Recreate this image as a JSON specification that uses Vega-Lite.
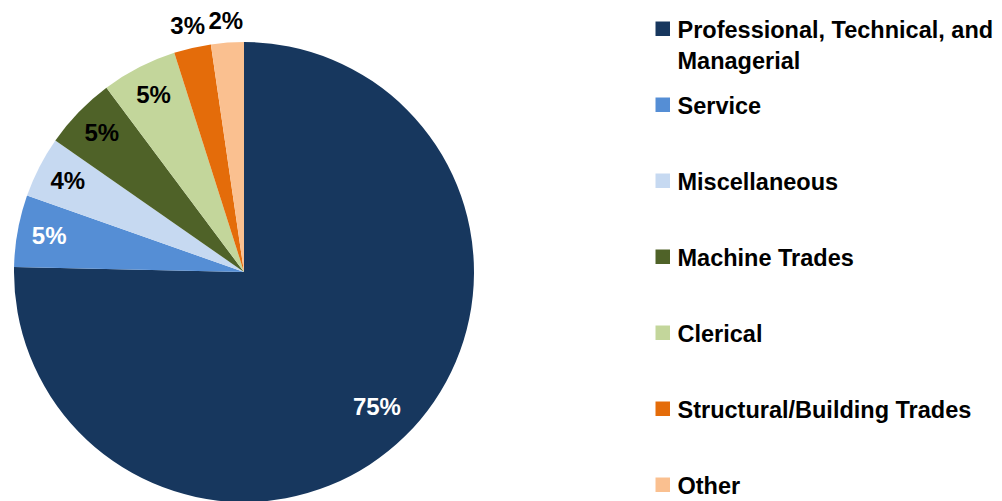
{
  "$schema": "https://vega.github.io/schema/vega-lite/v6.json",
  "width": 488,
  "height": 544,
  "padding": 0,
  "background": "white",
  "config": {"view": {"stroke": null}},
  "data": {
    "values": [
      {"category": "Professional, Technical, and Managerial", "share": 75.3, "label": "75%", "order": 1},
      {"category": "Service", "share": 5.05, "label": "5%", "order": 2},
      {"category": "Miscellaneous", "share": 4.3, "label": "4%", "order": 3},
      {"category": "Machine Trades", "share": 5.1, "label": "5%", "order": 4},
      {"category": "Clerical", "share": 5.3, "label": "5%", "order": 5},
      {"category": "Structural/Building Trades", "share": 2.6, "label": "3%", "order": 6},
      {"category": "Other", "share": 2.3, "label": "2%", "order": 7}
    ]
  },
  "encoding": {
    "theta": {"field": "share", "type": "quantitative", "stack": true},
    "order": {"field": "order", "type": "quantitative"}
  },
  "layer": [
    {
      "mark": {"type": "arc", "outerRadius": 230, "strokeWidth": 0},
      "encoding": {
        "color": {
          "field": "category",
          "type": "nominal",
          "scale": {
            "domain": ["Professional, Technical, and Managerial", "Service", "Miscellaneous", "Machine Trades", "Clerical", "Structural/Building Trades", "Other"],
            "range": ["#17375E", "#558ED5", "#C6D9F1", "#4F6228", "#C3D69B", "#E46C0A", "#FAC090"]
          },
          "legend": {
            "title": null,
            "orient": "none",
            "legendX": 651,
            "legendY": 17,
            "symbolType": "square",
            "symbolSize": 210,
            "symbolStrokeWidth": 0,
            "labelFont": "Liberation Sans",
            "labelFontWeight": "bold",
            "labelFontSize": 23.5,
            "labelColor": "#000000",
            "labelLimit": 500,
            "labelOffset": 3,
            "labelBaseline": "alphabetic",
            "gridAlign": "all",
            "rowPadding": 19,
            "labelExpr": "datum.label == 'Professional, Technical, and Managerial' ? ['Professional, Technical, and', 'Managerial'] : datum.label",
            "encode": {
              "labels": {"update": {"dy": {"value": 9}, "lineHeight": {"value": 31}}}
            }
          }
        }
      }
    },
    {
      "mark": {
        "type": "text",
        "radius": {"expr": "datum.order == 1 ? 190 : datum.order <= 5 ? 198 : 251"},
        "font": "Liberation Sans",
        "fontWeight": "bold",
        "fontSize": 24,
        "align": "center",
        "baseline": "middle"
      },
      "encoding": {
        "text": {"field": "label"},
        "fill": {"condition": {"test": "datum.order <= 2", "value": "white"}, "value": "black"}
      }
    }
  ]
}
